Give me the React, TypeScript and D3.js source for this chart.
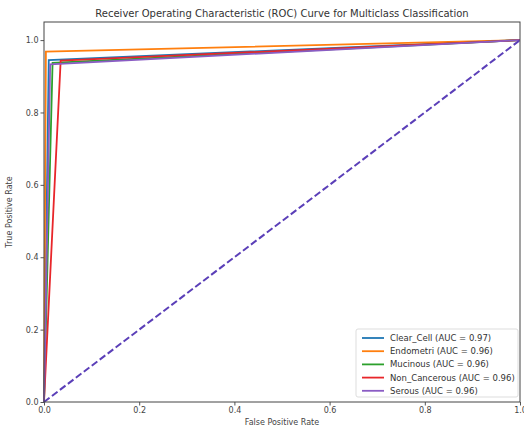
import * as d3 from "d3";
import { useEffect, useRef } from "react";

const classNames = ["Clear_Cell", "Endometri", "Mucinous", "Non_Cancerous", "Serous"];
const fprValues = [0.01, 0.004, 0.018, 0.035, 0.013];
const tprValues = [0.945, 0.968, 0.937, 0.943, 0.933];
const aucValues = ["0.97", "0.96", "0.96", "0.96", "0.96"];
const colors = ["#1f77b4", "#ff7f0e", "#2ca02c", "#e8262a", "#8a5cc4"];
const xTicks = [0, 0.2, 0.4, 0.6, 0.8, 1.0];
const yTicks = [0, 0.2, 0.4, 0.6, 0.8, 1.0];

const App = () => {
	const svgRef = useRef<SVGSVGElement>(null);

	useEffect(() => {
		if (!svgRef.current) return;
		const width = 524;
		const height = 430;
		const margin = { top: 22, left: 44, right: 4, bottom: 28 };
		const font = "DejaVu Sans, sans-serif";

		const svg = d3.select(svgRef.current);
		svg.selectAll("*").remove();

		const x = d3.scaleLinear().domain([0, 1]).range([margin.left, width - margin.right]);
		const y = d3.scaleLinear().domain([0, 1.05]).range([height - margin.bottom, margin.top]);

		svg.append("rect").attr("width", width).attr("height", height).attr("fill", "#fff");

		// axes
		const xAxis = svg
			.append("g")
			.attr("transform", `translate(0, ${height - margin.bottom})`)
			.call(d3.axisBottom(x).tickValues(xTicks).tickFormat(d3.format(".1f")).tickSize(3.5).tickPadding(2));
		const yAxis = svg
			.append("g")
			.attr("transform", `translate(${margin.left}, 0)`)
			.call(d3.axisLeft(y).tickValues(yTicks).tickFormat(d3.format(".1f")).tickSize(3.5).tickPadding(2));
		[xAxis, yAxis].forEach((a) => {
			a.select(".domain").remove();
			a.selectAll("line").attr("stroke", "#555");
			a.selectAll("text").attr("font-family", font).attr("font-size", "8px").attr("fill", "#444");
		});

		// curves
		const line = d3
			.line<[number, number]>()
			.x((d) => x(d[0]))
			.y((d) => y(d[1]));
		classNames.forEach((_, i) => {
			const pts: [number, number][] = [
				[0, 0],
				[fprValues[i], tprValues[i]],
				[1, 1],
			];
			svg
				.append("path")
				.attr("d", line(pts))
				.attr("fill", "none")
				.attr("stroke", colors[i])
				.attr("stroke-width", 1.8);
		});

		// chance line
		svg
			.append("path")
			.attr("d", line([[0, 0], [1, 1]]))
			.attr("fill", "none")
			.attr("stroke", "#5b3fb8")
			.attr("stroke-width", 2)
			.attr("stroke-dasharray", "7,3");

		// frame
		svg
			.append("rect")
			.attr("x", margin.left)
			.attr("y", margin.top)
			.attr("width", width - margin.left - margin.right)
			.attr("height", height - margin.top - margin.bottom)
			.attr("fill", "none")
			.attr("stroke", "#444")
			.attr("stroke-width", 1);

		// legend
		const legend = svg.append("g");
		legend
			.append("rect")
			.attr("x", 356)
			.attr("y", 329)
			.attr("width", 162)
			.attr("height", 68)
			.attr("rx", 2)
			.attr("fill", "#fff")
			.attr("fill-opacity", 0.8)
			.attr("stroke", "#ddd");
		classNames.forEach((name, i) => {
			const ly = 338 + i * 13.2;
			legend
				.append("line")
				.attr("x1", 362)
				.attr("x2", 384)
				.attr("y1", ly)
				.attr("y2", ly)
				.attr("stroke", colors[i])
				.attr("stroke-width", 1.8);
			legend
				.append("text")
				.attr("x", 390)
				.attr("y", ly + 3)
				.attr("font-family", font)
				.attr("font-size", "8.5px")
				.attr("fill", "#333")
				.text(`${name} (AUC = ${aucValues[i]})`);
		});

		// titles
		svg
			.append("text")
			.attr("x", (margin.left + width - margin.right) / 2)
			.attr("y", 17)
			.attr("text-anchor", "middle")
			.attr("font-family", font)
			.attr("font-size", "10px")
			.attr("fill", "#333")
			.text("Receiver Operating Characteristic (ROC) Curve for Multiclass Classification");
		svg
			.append("text")
			.attr("x", (margin.left + width - margin.right) / 2)
			.attr("y", 425)
			.attr("text-anchor", "middle")
			.attr("font-family", font)
			.attr("font-size", "8px")
			.attr("fill", "#444")
			.text("False Positive Rate");
		svg
			.append("text")
			.attr("transform", `translate(12, ${(margin.top + height - margin.bottom) / 2}) rotate(-90)`)
			.attr("text-anchor", "middle")
			.attr("font-family", font)
			.attr("font-size", "8px")
			.attr("fill", "#444")
			.text("True Positive Rate");
	}, []);

	return (
		<svg
			ref={svgRef}
			width={524}
			height={430}
			style={{ position: "absolute", left: 0, top: 0 }}
		></svg>
	);
};

export default App;
